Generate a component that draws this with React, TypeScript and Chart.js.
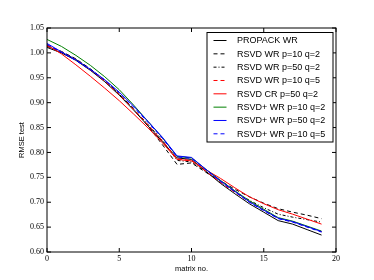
import React, { useEffect, useRef } from "react";
import { Chart, registerables } from "chart.js";

Chart.register(...registerables);

const matrixNo = [0, 1, 2, 3, 4, 5, 6, 7, 8, 9, 10, 11, 12, 13, 14, 15, 16, 17, 18, 19];

const propackWR = [1.011, 1.0, 0.985, 0.965, 0.942, 0.915, 0.885, 0.853, 0.821, 0.789, 0.786, 0.762, 0.738, 0.717, 0.697, 0.680, 0.663, 0.656, 0.645, 0.634];
const rsvdWR_p10q2 = [1.015, 1.003, 0.988, 0.968, 0.945, 0.918, 0.887, 0.853, 0.815, 0.776, 0.779, 0.760, 0.743, 0.726, 0.711, 0.698, 0.687, 0.680, 0.674, 0.667];
const rsvdWR_p50q2 = [1.013, 1.002, 0.987, 0.967, 0.944, 0.917, 0.887, 0.856, 0.824, 0.784, 0.781, 0.761, 0.740, 0.721, 0.704, 0.689, 0.676, 0.670, 0.665, 0.660];
const rsvdWR_p10q5 = [1.014, 1.002, 0.986, 0.966, 0.943, 0.916, 0.886, 0.855, 0.823, 0.787, 0.784, 0.762, 0.740, 0.720, 0.701, 0.684, 0.668, 0.661, 0.651, 0.641];
const rsvdCR_p50q2 = [1.016, 0.998, 0.976, 0.953, 0.929, 0.904, 0.877, 0.849, 0.819, 0.786, 0.783, 0.765, 0.748, 0.729, 0.711, 0.697, 0.685, 0.676, 0.666, 0.656];
const rsvdPlusWR_p10q2 = [1.027, 1.013, 0.995, 0.975, 0.952, 0.926, 0.895, 0.862, 0.829, 0.792, 0.789, 0.766, 0.744, 0.723, 0.703, 0.686, 0.669, 0.662, 0.652, 0.642];
const rsvdPlusWR_p50q2 = [1.019, 1.002, 0.986, 0.967, 0.946, 0.921, 0.893, 0.862, 0.830, 0.793, 0.790, 0.766, 0.743, 0.722, 0.701, 0.684, 0.668, 0.661, 0.651, 0.641];
const rsvdPlusWR_p10q5 = [1.017, 1.001, 0.985, 0.966, 0.945, 0.920, 0.891, 0.860, 0.828, 0.791, 0.788, 0.765, 0.742, 0.721, 0.700, 0.683, 0.667, 0.660, 0.650, 0.640];

const seriesLabels = [
  "PROPACK WR",
  "RSVD WR p=10 q=2",
  "RSVD WR p=50 q=2",
  "RSVD WR p=10 q=5",
  "RSVD CR p=50 q=2",
  "RSVD+ WR p=10 q=2",
  "RSVD+ WR p=50 q=2",
  "RSVD+ WR p=10 q=5",
];
const seriesValues = [propackWR, rsvdWR_p10q2, rsvdWR_p50q2, rsvdWR_p10q5, rsvdCR_p50q2, rsvdPlusWR_p10q2, rsvdPlusWR_p50q2, rsvdPlusWR_p10q5];
const seriesColors = ["#000000", "#000000", "#000000", "#ff0000", "#ff0000", "#008000", "#0000ff", "#0000ff"];
const seriesDash: number[][] = [[], [4, 3], [3, 2, 1, 2], [4, 3], [], [], [], [4, 3]];

const xTicks = [0, 5, 10, 15, 20];
const yTicks = [0.6, 0.65, 0.7, 0.75, 0.8, 0.85, 0.9, 0.95, 1.0, 1.05];

const framePlugin = {
  id: "frame",
  afterDraw(chart: any) {
    const { ctx, chartArea: a, scales } = chart;
    ctx.save();
    ctx.strokeStyle = "#000";
    ctx.lineWidth = 1;
    ctx.setLineDash([]);
    ctx.strokeRect(a.left, a.top, a.right - a.left, a.bottom - a.top);
    const tl = 4;
    ctx.beginPath();
    xTicks.forEach((t) => {
      const x = scales.x.getPixelForValue(t);
      ctx.moveTo(x, a.bottom);
      ctx.lineTo(x, a.bottom - tl);
      ctx.moveTo(x, a.top);
      ctx.lineTo(x, a.top + tl);
    });
    yTicks.forEach((t) => {
      const y = scales.y.getPixelForValue(t);
      ctx.moveTo(a.left, y);
      ctx.lineTo(a.left + tl, y);
      ctx.moveTo(a.right, y);
      ctx.lineTo(a.right - tl, y);
    });
    ctx.stroke();

    // axis titles
    ctx.fillStyle = "#000";
    ctx.font = "7.5px 'Liberation Sans', Arial, sans-serif";
    ctx.textAlign = "center";
    ctx.textBaseline = "middle";
    ctx.fillText("matrix no.", (a.left + a.right) / 2, 268.5);
    ctx.save();
    ctx.translate(22, (a.top + a.bottom) / 2);
    ctx.rotate(-Math.PI / 2);
    ctx.fillText("RMSE test", 0, 0);
    ctx.restore();

    // legend
    const bx = a.right - 129;
    const by = a.top + 4.5;
    const bw = 126;
    const bh = 109.5;
    ctx.fillStyle = "#fff";
    ctx.fillRect(bx, by, bw, bh);
    ctx.strokeStyle = "#000";
    ctx.lineWidth = 1;
    ctx.strokeRect(bx, by, bw, bh);
    ctx.font = "9px 'Liberation Sans', Arial, sans-serif";
    ctx.textAlign = "left";
    seriesLabels.forEach((lab, i) => {
      const y = by + 8 + i * 13.33;
      ctx.strokeStyle = seriesColors[i];
      ctx.setLineDash(seriesDash[i]);
      ctx.beginPath();
      ctx.moveTo(bx + 6.5, y);
      ctx.lineTo(bx + 19.5, y);
      ctx.stroke();
      ctx.setLineDash([]);
      ctx.fillStyle = "#000";
      ctx.fillText(lab, bx + 30, y + 0.5);
    });
    ctx.restore();
  },
};

export default function App() {
  const ref = useRef<HTMLCanvasElement | null>(null);
  useEffect(() => {
    if (!ref.current) return;
    const chart = new Chart(ref.current, {
      type: "line",
      data: {
        datasets: seriesLabels.map((lab, i) => ({
          label: lab,
          data: matrixNo.map((x, j) => ({ x, y: seriesValues[i][j] })),
          borderColor: seriesColors[i],
          borderDash: seriesDash[i],
          borderWidth: 1,
          pointRadius: 0,
          fill: false,
          tension: 0,
          order: seriesLabels.length - i,
        })),
      },
      options: {
        animation: false,
        responsive: true,
        maintainAspectRatio: false,
        layout: { padding: { left: 0, right: 38, top: 28, bottom: 0 } },
        plugins: { legend: { display: false }, tooltip: { enabled: false } },
        scales: {
          x: {
            type: "linear",
            min: 0,
            max: 20,
            afterFit: (s: any) => {
              s.height = 28;
            },
            afterBuildTicks: (s: any) => {
              s.ticks = xTicks.map((v) => ({ value: v }));
            },
            grid: { display: false, drawTicks: false },
            border: { display: false },
            ticks: {
              padding: 2,
              color: "#000",
              font: { family: "'Liberation Serif', serif", size: 8 },
              maxRotation: 0,
              callback: (v: any) => String(v),
            },
          },
          y: {
            type: "linear",
            min: 0.6,
            max: 1.05,
            afterFit: (s: any) => {
              s.width = 47;
            },
            afterBuildTicks: (s: any) => {
              s.ticks = yTicks.map((v) => ({ value: v }));
            },
            grid: { display: false, drawTicks: false },
            border: { display: false },
            ticks: {
              padding: 3,
              color: "#000",
              font: { family: "'Liberation Serif', serif", size: 8 },
              callback: (v: any) => Number(v).toFixed(2),
            },
          },
        },
      },
      plugins: [framePlugin],
    });
    return () => chart.destroy();
  }, []);
  return (
    <div style={{ position: "absolute", left: 0, top: 0, width: 374, height: 280, background: "#fff" }}>
      <canvas ref={ref} />
    </div>
  );
}
